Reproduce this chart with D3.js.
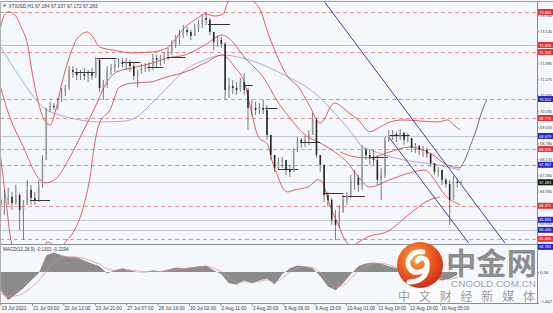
<!DOCTYPE html>
<html><head><meta charset="utf-8">
<script src="https://cdn.jsdelivr.net/npm/d3@7"></script>
<style>html,body{margin:0;padding:0;background:#fff;} svg{display:block;}</style>
</head><body><svg id="c" width="553" height="313"></svg>
<script>
// ---------------- DATA ----------------
const symbolTitle = "XTIUSD,H1  67.184 67.337 67.172 67.283";
const macdTitle = "MACD(12,26,9) -0.1301 -0.2294";
const barsPerCandle = 4;
const candleOpen = [66.60,66.41,66.60,66.72,66.48,66.79,66.21,66.41,66.99,66.68,
66.60,67.18,68.15,70.09,70.24,70.20,70.48,70.79,70.94,71.64,
71.56,71.44,71.48,71.41,71.52,71.41,72.03,70.94,71.06,71.64,
71.72,71.87,71.95,71.87,71.95,71.79,71.41,71.56,71.72,71.75,
71.79,72.10,72.03,72.10,72.18,72.34,72.61,72.88,72.99,73.19,
73.11,72.96,73.27,73.42,73.65,73.58,73.11,72.72,72.80,72.65,
70.86,71.02,70.94,70.86,71.17,70.86,70.17,70.17,70.09,70.17,
70.09,69.12,68.34,67.84,68.07,68.15,67.76,67.69,68.54,68.93,
68.85,68.93,69.12,69.70,68.34,67.96,66.79,66.60,65.83,65.63,
66.14,66.60,66.76,67.38,67.45,67.18,68.54,68.34,68.23,68.15,
67.38,67.57,68.93,69.12,69.16,69.08,69.20,68.93,69.00,68.62,
68.69,68.54,68.54,68.39,68.03,67.69,67.76,67.38,67.22,66.60,
67.30,67.18];
const candleHigh = [66.79,66.99,67.07,66.91,67.18,66.87,66.60,67.38,67.18,66.91,
67.38,68.34,70.17,70.40,70.36,70.55,70.94,71.06,71.79,71.79,
71.72,71.64,71.72,71.64,71.72,72.14,72.10,71.25,71.79,71.87,
72.03,72.10,72.10,72.10,72.03,71.95,71.64,71.87,71.91,71.95,
72.26,72.22,72.22,72.34,72.49,72.80,72.99,73.19,73.38,73.30,
73.19,73.42,73.58,73.77,73.89,73.65,73.11,72.96,72.92,72.72,
71.33,71.25,71.17,71.33,71.52,70.94,70.48,70.40,70.36,70.48,
70.28,69.12,68.34,68.23,68.27,68.15,67.96,68.62,69.04,69.00,
69.08,69.31,69.97,69.78,68.34,67.96,66.91,66.68,66.21,66.41,
66.79,66.91,67.57,67.76,67.57,68.73,68.62,68.54,68.54,68.34,
67.84,69.04,69.31,69.31,69.24,69.35,69.24,69.20,69.00,68.81,
68.73,68.69,68.62,68.39,68.03,67.88,67.76,67.45,67.38,67.53,
67.45,67.34];
const candleLow = [65.75,66.02,66.41,66.21,66.41,65.44,65.05,66.41,66.41,66.41,
66.52,67.07,68.15,70.01,70.09,70.09,70.40,70.63,70.86,71.33,
71.25,71.25,71.25,71.17,71.25,71.33,70.79,70.48,70.94,71.44,
71.56,71.72,71.72,71.64,71.56,71.25,70.98,71.48,71.56,71.56,
71.64,71.75,71.79,71.87,72.03,72.22,72.49,72.61,72.88,72.96,
72.80,72.96,73.11,73.27,73.38,72.99,72.41,72.53,72.49,70.48,
70.55,70.71,70.67,70.79,70.67,69.31,69.89,69.89,69.93,69.93,
68.93,68.15,67.69,67.76,67.84,67.57,67.49,67.69,68.46,68.62,
68.65,68.73,69.12,68.23,67.69,66.52,66.33,65.63,65.05,65.52,
66.10,66.41,66.68,66.99,66.91,66.99,68.15,67.96,67.96,67.18,
66.60,67.45,68.85,68.93,68.85,68.93,68.73,68.81,68.46,68.42,
68.34,68.27,68.23,67.88,67.57,67.49,67.18,67.07,65.63,66.60,
67.07,67.17];
const candleClose = [66.41,66.60,66.72,66.48,66.79,66.21,66.41,66.99,66.68,66.60,
67.18,68.15,70.09,70.24,70.20,70.48,70.79,70.94,71.64,71.56,
71.44,71.48,71.41,71.52,71.41,72.03,70.94,71.06,71.64,71.72,
71.87,71.95,71.87,71.95,71.79,71.41,71.56,71.72,71.75,71.79,
72.10,72.03,72.10,72.18,72.34,72.61,72.88,72.99,73.19,73.11,
72.96,73.27,73.42,73.65,73.58,73.11,72.72,72.80,72.65,70.86,
71.02,70.94,70.86,71.17,70.86,70.17,70.17,70.09,70.17,70.09,
69.12,68.34,67.84,68.07,68.15,67.76,67.69,68.54,68.93,68.85,
68.93,69.12,69.70,68.34,67.96,66.79,66.60,65.83,65.63,66.14,
66.60,66.76,67.38,67.45,67.18,68.54,68.34,68.23,68.15,67.38,
67.57,68.93,69.12,69.16,69.08,69.20,68.93,69.00,68.62,68.69,
68.54,68.54,68.39,68.03,67.69,67.76,67.38,67.22,66.60,67.30,
67.26,67.28];

// bands: [bar index, price]
const bandUpper = [[0,73.30],[4,73.77],[8,73.89],[15,73.77],[22,73.27],[28,72.68],[34,71.37],[39,70.48],[46,69.70],[52,69.51],[58,70.09],[64,71.06],[73,72.22],[81,72.88],[91,73.11],[97,72.92],[104,72.53],[118,72.41],[139,72.30],[160,72.34],[175,72.49],[194,73.30],[207,73.65],[215,73.81],[225,73.73],[234,73.81],[239,74.27],[252,74.51],[265,74.31],[273,73.96],[281,73.07],[288,72.41],[296,71.75],[302,71.37],[313,70.98],[323,70.36],[328,70.01],[332,69.70],[336,69.58],[341,69.78],[346,70.17],[351,70.36],[359,70.20],[365,70.01],[376,69.70],[388,69.24],[399,69.43],[409,69.62],[423,69.70],[441,69.66],[459,69.62],[470,69.70],[476,69.51],[483,69.31]];
const bandMiddle = [[0,70.98],[7,70.09],[24,68.65],[39,67.49],[47,67.26],[57,67.38],[73,68.27],[91,69.58],[99,70.17],[110,71.06],[122,71.56],[139,71.72],[160,71.91],[175,72.10],[194,72.22],[215,72.61],[233,72.99],[238,72.92],[257,72.10],[278,71.25],[290,70.48],[304,69.78],[320,69.12],[336,68.81],[348,68.54],[365,68.03],[376,67.49],[388,67.10],[409,67.38],[430,67.65],[446,67.76],[454,67.49],[467,66.79],[483,66.41]];
const bandLower = [[0,68.27],[5,66.79],[10,65.24],[16,64.47],[36,64.35],[45,64.82],[50,64.97],[57,64.82],[64,64.82],[70,65.05],[76,65.32],[87,66.33],[94,67.49],[99,68.81],[104,69.58],[115,70.09],[125,70.98],[139,71.13],[157,71.17],[175,71.37],[194,71.56],[215,71.91],[233,72.22],[246,71.75],[257,71.06],[262,70.28],[271,69.04],[281,68.73],[285,68.15],[290,67.65],[296,67.10],[302,66.91],[309,66.99],[323,67.10],[334,67.38],[338,67.30],[346,66.41],[355,65.63],[362,65.05],[369,64.82],[378,65.01],[388,65.20],[406,65.36],[420,65.75],[435,66.21],[451,66.60],[462,66.72]];
const envelopeLine = [[357,68.46],[372,68.27],[388,68.23],[409,68.46],[430,68.65],[451,68.42],[469,67.96],[483,67.84]];
const slowMA = [[0,72.53],[20,71.37],[45,70.17],[62,69.89],[78,69.74],[104,69.62],[131,69.66],[146,69.89],[157,70.28],[173,70.86],[194,71.64],[215,72.03],[233,72.22],[254,72.10],[281,71.75],[302,71.37],[323,70.94],[338,70.48],[348,70.09],[362,69.51],[373,69.00],[380,68.65],[388,68.54],[404,68.34],[423,68.15],[459,67.96],[483,67.76]];
const channelA = [[339,74.35],[530,64.93]];
const channelB = [[408,69.04],[492,64.93]];
const projection = [[483,67.84],[489,68.23],[494,68.73],[500,69.31],[504,69.82],[508,70.24],[511,70.48]];
const dayOpenSegs = [[31,52,66.60],[78,99,71.56],[101,122,72.10],[129,147,71.95],[154,171,71.75],[175,194,72.14],[218,241,73.42],[257,265,71.06],[278,291,70.17],[292,313,67.80],[315,336,68.85],[339,360,66.87],[359,383,66.76],[388,407,68.27],[409,430,69.12]];

const levelRedDashed = [73.885, 72.335, 69.776, 68.576, 66.371, 65.090];
const levelPinkSolid = [72.606];
const levelGreyDashed = [70.512, 67.962];
const levelGreySolid = [69.079, 65.830, 65.440];
const bidPrice = 67.283;
const lowBlueLabel = 64.781;
const priceTicks = [73.760,73.140,72.515,71.895,71.275,70.655,70.035,69.415,68.790,68.170,67.550,66.930,66.310,65.690,65.070];

const timeLabels = ["19 Jul 2021","21 Jul 03:00","22 Jul 12:00","23 Jul 21:00","27 Jul 07:00","28 Jul 16:00","30 Jul 02:00","2 Aug 11:00","3 Aug 20:00","5 Aug 06:00","6 Aug 15:00","10 Aug 01:00","11 Aug 10:00","12 Aug 19:00","16 Aug 05:00"];
const timeLabelIdx = [0,33,66,99,132,165,198,231,264,297,330,363,396,429,462];

const macdStep = 8;
const macdHist = [-0.83,-1.28,-1.01,-0.74,-0.38,-0.06,0.76,0.89,0.76,0.67,
0.67,0.53,0.39,0.26,-0.06,0.08,0.17,0.08,-0.01,-0.01,
0.08,0.03,0.12,0.21,0.17,0.21,0.26,0.30,0.08,-0.10,
-0.51,-0.56,-0.38,-0.51,-0.38,-0.29,-0.56,-0.10,0.17,0.30,
0.26,0.17,-0.19,-0.65,-0.83,-0.51,-0.10,0.26,0.39,0.44,
0.39,0.26,0.17,0.17,0.08,-0.06,-0.19,-0.29,-0.38,-0.30,-0.13];
const macdSignal = [-0.95,-1.10,-1.08,-0.95,-0.70,-0.40,0.05,0.45,0.65,0.70,
0.68,0.62,0.50,0.36,0.15,0.08,0.10,0.10,0.05,0.01,
0.03,0.03,0.07,0.14,0.16,0.19,0.22,0.26,0.18,0.02,
-0.25,-0.45,-0.44,-0.46,-0.43,-0.35,-0.45,-0.28,-0.02,0.18,
0.24,0.20,-0.03,-0.40,-0.68,-0.60,-0.30,0.05,0.28,0.38,
0.40,0.32,0.23,0.19,0.12,0.02,-0.12,-0.22,-0.30,-0.32,-0.23];
const macdTicks = [0, -1.4047];

// ---------------- DRAW ----------------
const svg = d3.select('#c');
const R = 537;
const x = d3.scaleLinear().domain([0,564]).range([0.6,537.2]);
const y = d3.scaleLinear().domain([64.93,74.35]).range([243,0]);
const ym = d3.scaleLinear().domain([-1.4047,1.23]).range([303,245]);
const font = "'Liberation Sans', Arial, sans-serif";
const py = v => Math.round(y(v)) + 0.5;

const defs = svg.append('defs');
defs.append('clipPath').attr('id','clipMain').append('rect').attr('x',0).attr('y',2).attr('width',R).attr('height',242);
defs.append('clipPath').attr('id','clipMacd').append('rect').attr('x',0).attr('y',245).attr('width',R).attr('height',58);
const rg = defs.append('radialGradient').attr('id','logoG').attr('cx','40%').attr('cy','35%').attr('r','70%');
rg.append('stop').attr('offset','0%').attr('stop-color','#f8a83c');
rg.append('stop').attr('offset','55%').attr('stop-color','#eb5a20');
rg.append('stop').attr('offset','100%').attr('stop-color','#c82a16');

svg.append('rect').attr('width',553).attr('height',313).attr('fill','#f4f7fb');

const gMain = svg.append('g').attr('clip-path','url(#clipMain)');
function hline(v, color, dash, w){
  gMain.append('line').attr('x1',0).attr('x2',R).attr('y1',py(v)).attr('y2',py(v))
    .attr('stroke',color).attr('stroke-width',w).attr('stroke-dasharray',dash);
}
levelGreySolid.forEach(v=>hline(v,'#c3c7d6',null,1));
hline(bidPrice,'#cfd2dc',null,1);
levelGreyDashed.forEach(v=>hline(v,'#a3a6b6','4,3',1));
levelPinkSolid.forEach(v=>hline(v,'#f2b0b4',null,1));
levelRedDashed.forEach(v=>hline(v,'#e79498','4,3',1));

const line = d3.line().x(d=>x(d[0])).y(d=>y(d[1])).curve(d3.curveMonotoneX);
gMain.append('path').attr('d',line(slowMA)).attr('fill','none').attr('stroke','#a4a4d6').attr('stroke-width',0.9);
[bandUpper,bandMiddle,bandLower,envelopeLine].forEach(b=>{
  gMain.append('path').attr('d',line(b)).attr('fill','none').attr('stroke','#de3a3a').attr('stroke-width',0.8);
});
const lineStraight = d3.line().x(d=>x(d[0])).y(d=>y(d[1]));
[channelA,channelB].forEach(c=>{
  gMain.append('path').attr('d',lineStraight(c)).attr('fill','none').attr('stroke','#2b2b8c').attr('stroke-width',0.9);
});
dayOpenSegs.forEach(s=>{
  gMain.append('line').attr('x1',x(s[0])).attr('x2',x(s[1])).attr('y1',py(s[2])).attr('y2',py(s[2]))
    .attr('stroke','#333').attr('stroke-width',1);
});
// candles
candleClose.forEach((c,k)=>{
  const o = candleOpen[k], hi = candleHigh[k], lo = candleLow[k];
  const cx = x(k*barsPerCandle);
  gMain.append('line').attr('x1',cx).attr('x2',cx).attr('y1',y(hi)).attr('y2',y(lo))
    .attr('stroke','#444').attr('stroke-width',0.7);
  const top = y(Math.max(o,c)), bot = y(Math.min(o,c));
  gMain.append('rect').attr('x',cx-0.8).attr('width',1.6).attr('y',top).attr('height',Math.max(0.7,bot-top))
    .attr('fill', c>=o ? '#9a9a9a' : '#2a2a2a');
});
gMain.append('path').attr('d',line(projection)).attr('fill','none').attr('stroke','#707070').attr('stroke-width',1);

// header
svg.append('path').attr('d','M2.5,4.5 L6.5,4.5 L4.5,7.5 Z').attr('fill','#888');
svg.append('text').attr('x',8.5).attr('y',8.2).attr('font-family',font).attr('font-size',4.8).attr('fill','#444').text(symbolTitle);

// frame
svg.append('line').attr('x1',0).attr('x2',553).attr('y1',1.5).attr('y2',1.5).attr('stroke','#9a9a9a');
svg.append('line').attr('x1',0).attr('x2',R).attr('y1',244.5).attr('y2',244.5).attr('stroke','#8c8c8c');
svg.append('line').attr('x1',0).attr('x2',R).attr('y1',303.5).attr('y2',303.5).attr('stroke','#8c8c8c');
svg.append('line').attr('x1',R+0.5).attr('x2',R+0.5).attr('y1',1).attr('y2',304).attr('stroke','#8c8c8c');
svg.append('line').attr('x1',0.5).attr('x2',0.5).attr('y1',1).attr('y2',304).attr('stroke','#b0b0b0');

// right price axis (ticks hidden by a label box are skipped, as in the reference)
const boxVals = levelRedDashed.concat(levelPinkSolid, levelGreyDashed, levelGreySolid, [bidPrice, lowBlueLabel]);
const visibleTicks = priceTicks.filter(t => boxVals.every(b => Math.abs(y(b)-y(t)) > 3));
const ax = svg.append('g').attr('transform',`translate(${R},0)`)
  .call(d3.axisRight(y).tickValues(visibleTicks).tickFormat(d3.format('.3f')).tickSize(2).tickPadding(1));
ax.select('.domain').remove();
ax.selectAll('text').attr('font-size',4.4).attr('font-family',font).attr('fill','#444')
  .attr('textLength',12).attr('lengthAdjust','spacingAndGlyphs');
ax.selectAll('line').attr('stroke','#888');

function boxLabel(v, fill){
  const yy = y(v);
  svg.append('rect').attr('x',R+1).attr('y',yy-3).attr('width',15).attr('height',6).attr('fill',fill);
  svg.append('text').attr('x',R+2.2).attr('y',yy+1.6).attr('font-family',font).attr('font-size',4.4)
    .attr('fill','#fff').attr('textLength',12).attr('lengthAdjust','spacingAndGlyphs').text(d3.format('.3f')(v));
}
levelRedDashed.concat(levelPinkSolid).forEach(v=>boxLabel(v,'#e2323a'));
levelGreyDashed.concat(levelGreySolid).forEach(v=>boxLabel(v,'#2727c8'));
boxLabel(lowBlueLabel,'#2727c8');
boxLabel(bidPrice,'#141414');

// MACD
const gM = svg.append('g').attr('clip-path','url(#clipMacd)');
const area = d3.area().x((d,i)=>x(i*macdStep)).y0(ym(0)).y1(d=>ym(d));
gM.append('path').attr('d',area(macdHist)).attr('fill','#8c8c8c');
const sline = d3.line().x((d,i)=>x(i*macdStep)).y(d=>ym(d)).curve(d3.curveMonotoneX);
gM.append('path').attr('d',sline(macdSignal)).attr('fill','none').attr('stroke','#e08a8a').attr('stroke-width',0.7);
svg.append('text').attr('x',3).attr('y',251.2).attr('font-family',font).attr('font-size',4.6).attr('fill','#444').text(macdTitle);
const axm = svg.append('g').attr('transform',`translate(${R},0)`)
  .call(d3.axisRight(ym).tickValues(macdTicks).tickFormat(d=>d===0?'0.00':d3.format('.4f')(d)).tickSize(2).tickPadding(1));
axm.select('.domain').remove();
axm.selectAll('text').attr('font-size',4.4).attr('font-family',font).attr('fill','#444');
axm.selectAll('text').filter(d=>d!==0).attr('textLength',12).attr('lengthAdjust','spacingAndGlyphs').attr('dy','-0.1em');
axm.selectAll('line').attr('stroke','#888');

// time axis
const axx = svg.append('g').attr('transform','translate(0,303.5)')
  .call(d3.axisBottom(x).tickValues(timeLabelIdx).tickFormat((d,i)=>timeLabels[i]).tickSize(2).tickPadding(1));
axx.select('.domain').remove();
axx.selectAll('text').attr('font-size',4.8).attr('font-family',font).attr('fill','#444').attr('text-anchor','start').attr('dx',0.5);
axx.selectAll('line').attr('stroke','#888');

// watermark
const wm = svg.append('g');
wm.append('circle').attr('cx',420).attr('cy',265).attr('r',23).attr('fill','url(#logoG)');
wm.append('path').attr('d','M423,252 C411,250 404,262 410,269 C415,275 426,272 427,265 C428,258 420,256 417,261 M427,265 C428,276 420,282 409,282')
  .attr('fill','none').attr('stroke','#fff').attr('stroke-width',5).attr('stroke-linecap','round');
wm.append('rect').attr('x',394).attr('y',288).attr('width',143).attr('height',15).attr('fill','#ffffff').attr('opacity',0.55);
wm.append('text').attr('x',446).attr('y',274).attr('font-family',"'Noto Sans CJK SC', sans-serif").attr('font-weight',700)
  .attr('font-size',30).attr('fill','#8e8e8e').attr('textLength',91).attr('lengthAdjust','spacingAndGlyphs').text('中金网');
wm.append('text').attr('x',451).attr('y',287).attr('font-family',font).attr('font-size',9.5)
  .attr('fill','#a6a6a6').attr('textLength',85).attr('lengthAdjust','spacingAndGlyphs').text('CNGOLD.COM.CN');
wm.append('text').attr('x',398).attr('y',301).attr('font-family',"'Noto Sans CJK SC', sans-serif")
  .attr('font-size',12).attr('fill','#9c9c9c').attr('textLength',137).attr('lengthAdjust','spacing').text('中文财经新媒体');
</script></body></html>
